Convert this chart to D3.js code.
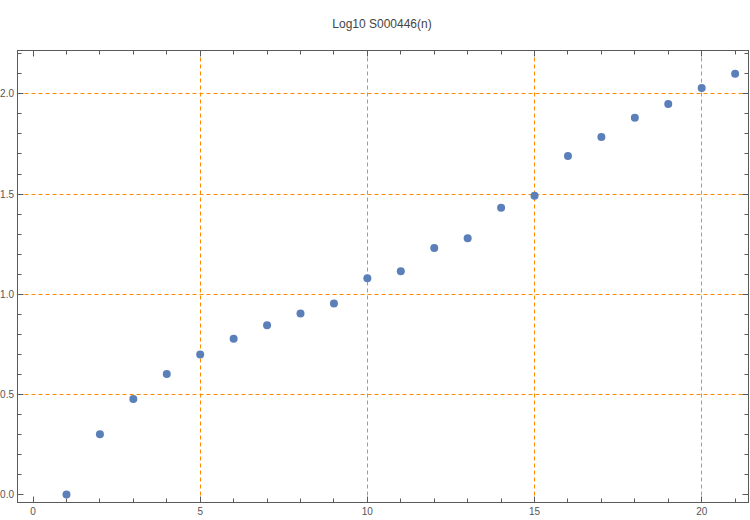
<!DOCTYPE html>
<html><head><meta charset="utf-8">
<script src="https://cdn.jsdelivr.net/npm/d3@7"></script>
<style>body{margin:0;background:#fff}svg{display:block}</style>
</head><body><svg id="c" width="750" height="520"></svg>
<script>
const n = [1,2,3,4,5,6,7,8,9,10,11,12,13,14,15,16,17,18,19,20,21];
const values = [0,0.301,0.477,0.602,0.699,0.778,0.845,0.903,0.954,1.079,1.114,1.230,1.279,1.431,1.491,1.690,1.785,1.881,1.949,2.029,2.100];
const xTicks = [0,5,10,15,20];
const yTicks = [0,0.5,1,1.5,2];
const xGrid = [5,10,15,20];
const yGrid = [0.5,1,1.5,2];
const title = "Log10 S000446(n)";

const svg = d3.select("#c");
const L=17.5, R=748.5, T=50.5, B=502.5;
const x = d3.scaleLinear().domain([-0.465,21.4]).range([L,R]);
const y = d3.scaleLinear().domain([-0.04,2.2166]).range([B,T]);
const px = v => Math.round(v-0.5)+0.5;
const orange="#ff8a00", frame="#5a5a5a", txt="#555";

svg.append("text").attr("x",382).attr("y",28).attr("text-anchor","middle")
  .attr("font-family","Liberation Sans, Arial, sans-serif").attr("font-size",12).attr("fill","#444").text(title);

// grid
svg.selectAll(".gx").data(xGrid).join("line").attr("x1",d=>px(x(d))).attr("x2",d=>px(x(d))).attr("y1",T).attr("y2",B)
  .attr("stroke",orange).attr("stroke-width",1).attr("stroke-dasharray","4,3");
svg.selectAll(".gy").data(yGrid).join("line").attr("y1",d=>px(y(d))).attr("y2",d=>px(y(d))).attr("x1",L).attr("x2",R)
  .attr("stroke",orange).attr("stroke-width",1).attr("stroke-dasharray","4,3");

// frame
svg.append("rect").attr("x",L).attr("y",T).attr("width",R-L).attr("height",B-T).attr("fill","none").attr("stroke",frame).attr("stroke-width",1);

// ticks
const xMinor = d3.range(0,22,1);
const yMinor = d3.range(0,2.21,0.1);
const g = svg.append("g").attr("stroke",frame).attr("stroke-width",1);
xMinor.forEach(v=>{
  const len = v%5===0?6:4;
  g.append("line").attr("x1",px(x(v))).attr("x2",px(x(v))).attr("y1",B).attr("y2",B-len);
  g.append("line").attr("x1",px(x(v))).attr("x2",px(x(v))).attr("y1",T).attr("y2",T+len);
});
yMinor.forEach(v=>{
  const major = Math.abs(v*2-Math.round(v*2))<1e-6;
  const len = major?6:4;
  g.append("line").attr("y1",px(y(v))).attr("y2",px(y(v))).attr("x1",L).attr("x2",L+len);
  g.append("line").attr("y1",px(y(v))).attr("y2",px(y(v))).attr("x1",R).attr("x2",R-len);
});

const font="Liberation Sans, Arial, sans-serif";
svg.selectAll(".xl").data(xTicks).join("text").attr("x",d=>x(d)).attr("y",515).attr("text-anchor","middle")
  .attr("font-family",font).attr("font-size",10).attr("fill",txt).text(d=>d);
svg.selectAll(".yl").data(yTicks).join("text").attr("x",14).attr("y",d=>y(d)+3.5).attr("text-anchor","end")
  .attr("font-family",font).attr("font-size",10).attr("fill",txt).text(d=>d3.format(".1f")(d));

// points
svg.selectAll(".pt").data(n).join("circle").attr("cx",d=>x(d)).attr("cy",(d,i)=>y(values[i])).attr("r",4)
  .attr("fill","#5b7fb9");
</script></body></html>
